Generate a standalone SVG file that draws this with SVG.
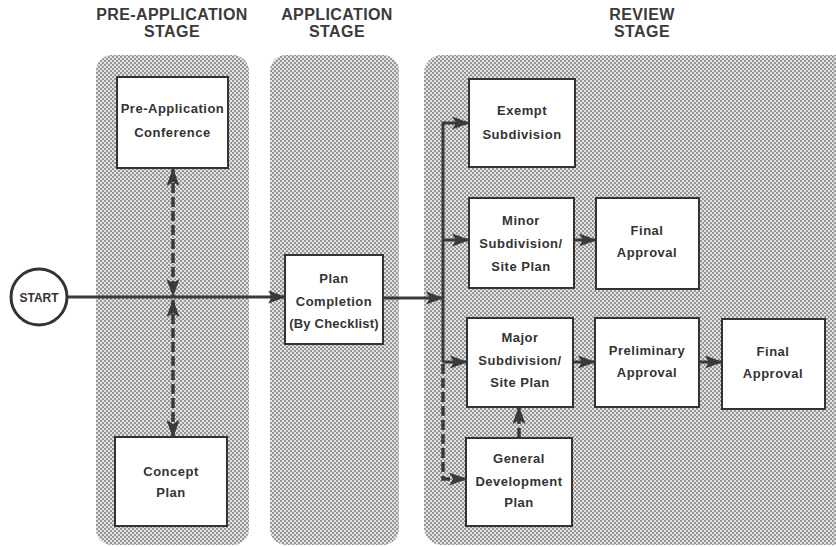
<svg xmlns="http://www.w3.org/2000/svg" width="836" height="547" viewBox="0 0 836 547">
<style>
.title{font-family:"Liberation Sans",Arial,sans-serif;font-weight:bold;font-size:16px;fill:#3a3a3a;text-anchor:middle;letter-spacing:0.4px}
.lbl{font-family:"Liberation Sans",Arial,sans-serif;font-weight:bold;font-size:13px;fill:#333;text-anchor:middle;letter-spacing:0.5px}
.box{fill:#fff;stroke:#333;stroke-width:2}
.panel{fill:url(#dots)}
.ln{fill:none;stroke:#3a3a3a;stroke-width:3}
.dash{fill:none;stroke:#3a3a3a;stroke-width:3.5;stroke-dasharray:10 4}
</style>
<defs>
<pattern id="dots" width="4" height="4" patternUnits="userSpaceOnUse">
<rect width="4" height="4" fill="#e2e2e2"/>
<circle cx="1" cy="1" r="1.05" fill="#8c8c8c"/>
<circle cx="3" cy="3" r="1.05" fill="#8c8c8c"/>
</pattern>
<marker id="ah" markerUnits="userSpaceOnUse" markerWidth="18" markerHeight="13" refX="17" refY="6.5" orient="auto-start-reverse">
<path d="M0,0 L18,6.5 L0,13 L4,6.5 z" fill="#3a3a3a"/>
</marker>
</defs>
<g id="titles">
<text class="title" x="172" y="20">PRE-APPLICATION</text>
<text class="title" x="172" y="37">STAGE</text>
<text class="title" x="337" y="20">APPLICATION</text>
<text class="title" x="337" y="37">STAGE</text>
<text class="title" x="642" y="20">REVIEW</text>
<text class="title" x="642" y="37">STAGE</text>
</g>
<g id="panels">
<rect class="panel" x="96" y="55" width="153" height="490" rx="16"/>
<rect class="panel" x="270" y="55" width="129" height="490" rx="16"/>
<rect class="panel" x="424" y="55" width="430" height="490" rx="18"/>
</g>
<g id="connectors">
<line class="ln" x1="68" y1="297" x2="285" y2="297" marker-end="url(#ah)"/>
<line class="dash" x1="173" y1="169" x2="173" y2="296" marker-start="url(#ah)" marker-end="url(#ah)"/>
<line class="dash" x1="173" y1="300" x2="173" y2="437" marker-start="url(#ah)" marker-end="url(#ah)"/>
<line class="ln" x1="383" y1="298" x2="443" y2="298" marker-end="url(#ah)"/>
<path class="ln" d="M443,362 V123 H469" marker-end="url(#ah)"/>
<line class="ln" x1="443" y1="240" x2="469" y2="240" marker-end="url(#ah)"/>
<line class="ln" x1="443" y1="362" x2="467" y2="362" marker-end="url(#ah)"/>
<path class="dash" d="M443,364 V479 H466" marker-end="url(#ah)"/>
<line class="ln" x1="574" y1="240" x2="596" y2="240" marker-end="url(#ah)"/>
<line class="ln" x1="573" y1="362" x2="595" y2="362" marker-end="url(#ah)"/>
<line class="ln" x1="699" y1="362" x2="722" y2="362" marker-end="url(#ah)"/>
<line class="dash" x1="519" y1="438" x2="519" y2="407" marker-end="url(#ah)"/>
</g>
<g id="start">
<circle cx="39" cy="297" r="28" fill="#fff" stroke="#333" stroke-width="3"/>
<text class="lbl" x="39" y="302" style="font-size:12px;letter-spacing:0">START</text>
</g>
<g id="pre-app-conf">
<rect class="box" x="117" y="77" width="111" height="91"/>
<text class="lbl" x="172.5" y="113">Pre-Application</text>
<text class="lbl" x="172.5" y="137">Conference</text>
</g>
<g id="concept-plan">
<rect class="box" x="115" y="437" width="112" height="89"/>
<text class="lbl" x="171" y="476">Concept</text>
<text class="lbl" x="171" y="497">Plan</text>
</g>
<g id="plan-completion">
<rect class="box" x="285" y="255" width="98" height="89"/>
<text class="lbl" x="334" y="283">Plan</text>
<text class="lbl" x="334" y="306">Completion</text>
<text class="lbl" x="334" y="328" style="letter-spacing:0.2px">(By Checklist)</text>
</g>
<g id="exempt">
<rect class="box" x="469" y="79" width="106" height="88"/>
<text class="lbl" x="522" y="115">Exempt</text>
<text class="lbl" x="522" y="139">Subdivision</text>
</g>
<g id="minor">
<rect class="box" x="469" y="198" width="105" height="90"/>
<text class="lbl" x="521" y="225">Minor</text>
<text class="lbl" x="521" y="248">Subdivision/</text>
<text class="lbl" x="521" y="271">Site Plan</text>
</g>
<g id="final-1">
<rect class="box" x="596" y="198" width="103" height="91"/>
<text class="lbl" x="647" y="235">Final</text>
<text class="lbl" x="647" y="257">Approval</text>
</g>
<g id="major">
<rect class="box" x="467" y="318" width="106" height="89"/>
<text class="lbl" x="520" y="342">Major</text>
<text class="lbl" x="520" y="365">Subdivision/</text>
<text class="lbl" x="520" y="387">Site Plan</text>
</g>
<g id="preliminary">
<rect class="box" x="595" y="318" width="104" height="89"/>
<text class="lbl" x="647" y="355">Preliminary</text>
<text class="lbl" x="647" y="377">Approval</text>
</g>
<g id="final-2">
<rect class="box" x="722" y="319" width="103" height="90"/>
<text class="lbl" x="773" y="356">Final</text>
<text class="lbl" x="773" y="378">Approval</text>
</g>
<g id="gdp">
<rect class="box" x="466" y="438" width="106" height="88"/>
<text class="lbl" x="519" y="463">General</text>
<text class="lbl" x="519" y="486">Development</text>
<text class="lbl" x="519" y="507">Plan</text>
</g>
</svg>
